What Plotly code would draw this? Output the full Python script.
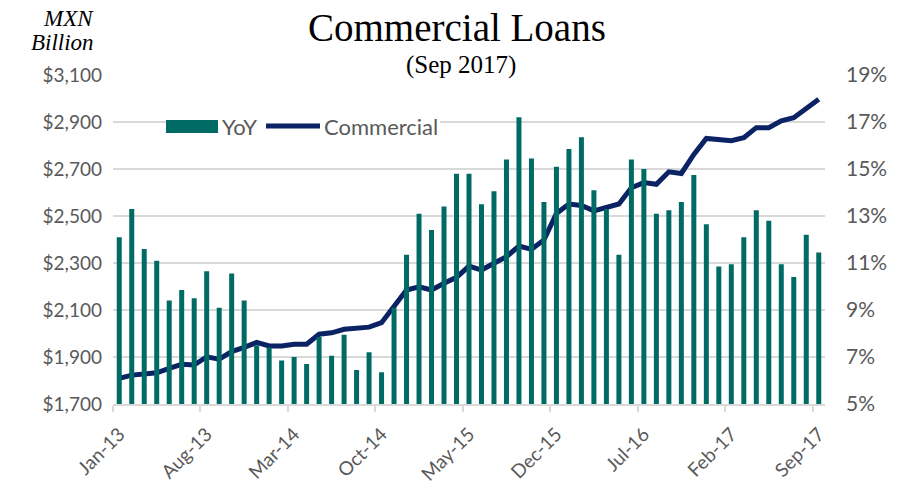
import plotly.graph_objects as go

# Monthly series, Jan-2013 .. Sep-2017
months = ["Jan-13", "Feb-13", "Mar-13", "Apr-13", "May-13", "Jun-13", "Jul-13", "Aug-13", "Sep-13", "Oct-13", "Nov-13", "Dec-13",
          "Jan-14", "Feb-14", "Mar-14", "Apr-14", "May-14", "Jun-14", "Jul-14", "Aug-14", "Sep-14", "Oct-14", "Nov-14", "Dec-14",
          "Jan-15", "Feb-15", "Mar-15", "Apr-15", "May-15", "Jun-15", "Jul-15", "Aug-15", "Sep-15", "Oct-15", "Nov-15", "Dec-15",
          "Jan-16", "Feb-16", "Mar-16", "Apr-16", "May-16", "Jun-16", "Jul-16", "Aug-16", "Sep-16", "Oct-16", "Nov-16", "Dec-16",
          "Jan-17", "Feb-17", "Mar-17", "Apr-17", "May-17", "Jun-17", "Jul-17", "Aug-17", "Sep-17"]

# Year-over-year growth, %
yoy = [12.1, 13.3, 11.6, 11.1, 9.4, 9.85, 9.5, 10.65, 9.1, 10.55, 9.4, 7.5,
       7.4, 6.85, 7.0, 6.7, 7.85, 7.05, 7.95, 6.45, 7.2, 6.35, 9.1, 11.35,
       13.1, 12.4, 13.4, 14.8, 14.8, 13.5, 14.05, 15.4, 17.2, 15.45, 13.6, 15.1,
       15.85, 16.35, 14.1, 13.3, 11.35, 15.4, 15.0, 13.1, 13.25, 13.6, 14.75, 12.65,
       10.85, 10.95, 12.1, 13.25, 12.8, 10.95, 10.4, 12.2, 11.45]

# Commercial loan stock, MXN billion
commercial = [1809, 1823, 1828, 1833, 1852, 1869, 1866, 1901, 1891, 1923, 1941, 1962,
              1947, 1947, 1954, 1954, 1997, 2003, 2018, 2025, 2027, 2046, 2114, 2185,
              2199, 2185, 2214, 2239, 2287, 2270, 2299, 2327, 2372, 2358, 2398, 2511,
              2551, 2545, 2522, 2537, 2551, 2620, 2642, 2635, 2688, 2681, 2762, 2830,
              2826, 2820, 2833, 2876, 2876, 2905, 2918, 2958, 2997]

left_ticks = [1700, 1900, 2100, 2300, 2500, 2700, 2900, 3100]
right_ticks = [5, 7, 9, 11, 13, 15, 17, 19]
label_step = 7

BAR_COLOR = "#006A64"
LINE_COLOR = "#0B2265"
GRID = "#D9D9D9"
TEXT = "#595959"
SERIF = "Liberation Serif, serif"

# plot-area geometry in pixels (used for the hand-drawn legend)
L, R, T, B = 113, 825, 75, 404
W, H = R - L, B - T


def px(xp):
    return (xp - L) / W


def py(yp):
    return (B - yp) / H


x = list(range(len(months)))

fig = go.Figure()
fig.add_trace(go.Bar(x=x, y=yoy, base=0, yaxis="y2", name="YoY",
                     marker=dict(color=BAR_COLOR, line=dict(width=0)), width=0.4))
fig.add_trace(go.Scatter(x=x, y=commercial, mode="lines", name="Commercial",
                         line=dict(color=LINE_COLOR, width=5)))

fig.update_layout(
    width=902, height=496,
    margin=dict(l=L, r=902 - R, t=T, b=496 - B),
    paper_bgcolor="white", plot_bgcolor="white",
    showlegend=False,
    font=dict(family="Lato, Open Sans, sans-serif", color=TEXT),
    xaxis=dict(
        range=[-0.5, len(months) - 0.5],
        tickvals=x[::label_step], ticktext=months[::label_step],
        tickangle=-45, tickfont=dict(size=19, color=TEXT),
        ticks="", showgrid=False, zeroline=False,
        showline=True, linecolor=GRID, linewidth=1.5,
        ticklabelstandoff=10,
        minor=dict(tick0=-0.5, dtick=label_step, ticks="outside", ticklen=6,
                   tickcolor=GRID, tickwidth=1.5, showgrid=False),
    ),
    yaxis=dict(
        range=[1700, 3100], tickvals=left_ticks,
        ticktext=[f"${v:,}" for v in left_ticks],
        tickfont=dict(size=19, color=TEXT),
        showgrid=True, gridcolor=GRID, gridwidth=1.5, zeroline=False,
        ticklabelstandoff=10,
    ),
    yaxis2=dict(
        range=[5, 19], tickvals=right_ticks,
        ticktext=[f"{v}%" for v in right_ticks],
        tickfont=dict(size=21, color=TEXT),
        overlaying="y", side="right", showgrid=False, zeroline=False,
        ticklabelstandoff=20,
    ),
    bargap=0.6,
)

# Titles
fig.add_annotation(text="Commercial Loans", xref="paper", yref="paper",
                   x=px(457), y=1.0, yshift=48, xanchor="center", yanchor="middle",
                   showarrow=False, font=dict(family=SERIF, size=39, color="black"))
fig.add_annotation(text="(Sep 2017)", xref="paper", yref="paper",
                   x=px(461), y=1.0, yshift=10, xanchor="center", yanchor="middle",
                   showarrow=False, font=dict(family=SERIF, size=25, color="black"))
fig.add_annotation(text="<i>MXN</i>", xref="paper", yref="paper",
                   x=px(96), y=py(19), xanchor="right", yanchor="middle",
                   showarrow=False, font=dict(family=SERIF, size=23, color="black"))
fig.add_annotation(text="<i>Billion</i>", xref="paper", yref="paper",
                   x=px(96), y=py(43), xanchor="right", yanchor="middle",
                   showarrow=False, font=dict(family=SERIF, size=23, color="black"))

# Legend drawn as swatches + labels on a white backing
fig.add_shape(type="rect", xref="paper", yref="paper", layer="above",
              x0=px(166), x1=px(440), y0=py(137), y1=py(114),
              fillcolor="white", line=dict(width=0))
fig.add_shape(type="rect", xref="paper", yref="paper", layer="above",
              x0=px(166), x1=px(218), y0=py(133), y1=py(120),
              fillcolor=BAR_COLOR, line=dict(width=0))
fig.add_annotation(text="YoY", xref="paper", yref="paper",
                   x=px(220), y=py(126), xanchor="left", yanchor="middle",
                   showarrow=False, font=dict(size=22, color=TEXT))
fig.add_shape(type="line", xref="paper", yref="paper", layer="above",
              x0=px(266), x1=px(320), y0=py(126), y1=py(126),
              line=dict(color=LINE_COLOR, width=5))
fig.add_annotation(text="Commercial", xref="paper", yref="paper",
                   x=px(322), y=py(126), xanchor="left", yanchor="middle",
                   showarrow=False, font=dict(size=22, color=TEXT))

fig.write_html("out.html")
